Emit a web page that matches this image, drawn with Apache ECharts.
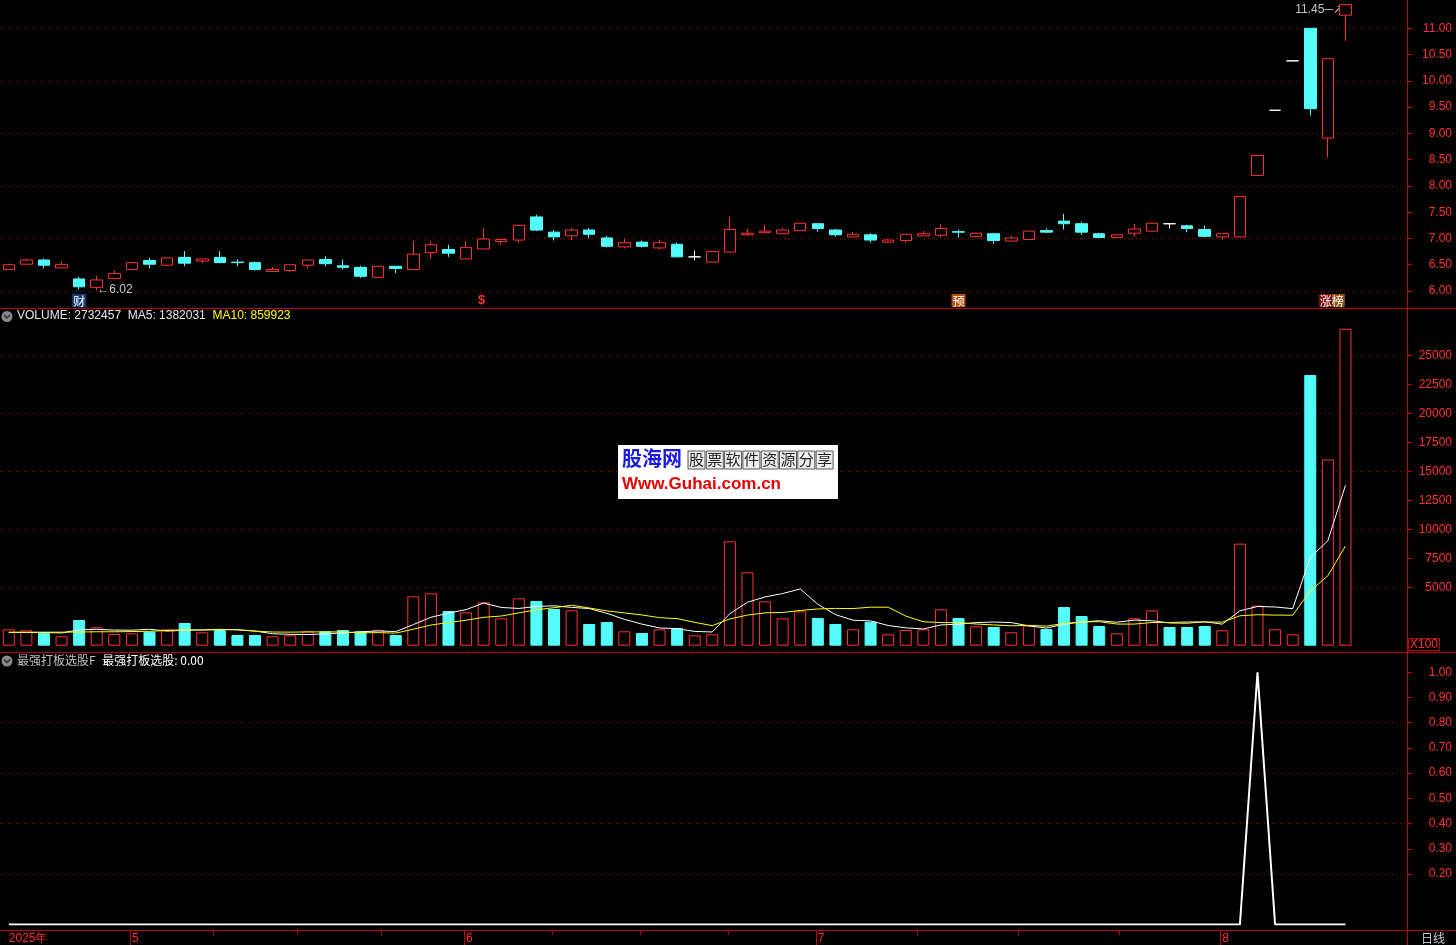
<!DOCTYPE html>
<html>
<head>
<meta charset="utf-8">
<title>K线</title>
<script src="https://cdn.jsdelivr.net/npm/echarts@6.0.0/dist/echarts.min.js"></script>
<style>
html,body{margin:0;padding:0;background:#000;overflow:hidden;}
#chart{width:1456px;height:945px;}
</style>
</head>
<body>
<div id="chart"></div>
<script>
// ---------------- data ----------------
const dates = [
 '2025-04-22','2025-04-23','2025-04-24','2025-04-25','2025-04-28','2025-04-29','2025-04-30',
 '2025-05-06','2025-05-07','2025-05-08','2025-05-09','2025-05-12','2025-05-13','2025-05-14','2025-05-15','2025-05-16',
 '2025-05-19','2025-05-20','2025-05-21','2025-05-22','2025-05-23','2025-05-26','2025-05-27','2025-05-28','2025-05-29','2025-05-30',
 '2025-06-03','2025-06-04','2025-06-05','2025-06-06','2025-06-09','2025-06-10','2025-06-11','2025-06-12','2025-06-13',
 '2025-06-16','2025-06-17','2025-06-18','2025-06-19','2025-06-20','2025-06-23','2025-06-24','2025-06-25','2025-06-26','2025-06-27','2025-06-30',
 '2025-07-01','2025-07-02','2025-07-03','2025-07-04','2025-07-07','2025-07-08','2025-07-09','2025-07-10','2025-07-11',
 '2025-07-14','2025-07-15','2025-07-16','2025-07-17','2025-07-18','2025-07-21','2025-07-22','2025-07-23','2025-07-24','2025-07-25',
 '2025-07-28','2025-07-29','2025-07-30','2025-07-31',
 '2025-08-01','2025-08-04','2025-08-05','2025-08-06','2025-08-07','2025-08-08','2025-08-11','2025-08-12'
];
const opens = [
 6.41,6.51,6.59,6.44,6.23,6.07,6.24,6.41,6.58,6.49,
 6.64,6.57,6.64,6.55,6.54,6.37,6.39,6.49,6.60,6.48,
 6.45,6.26,6.47,6.41,6.73,6.79,6.61,6.80,6.94,6.97,
 7.41,7.12,7.05,7.16,7.01,6.84,6.93,6.82,6.89,6.65,
 6.55,6.74,7.07,7.11,7.09,7.15,7.28,7.16,7.03,7.07,
 6.93,6.96,7.05,7.06,7.13,7.04,7.09,6.95,6.98,7.15,
 7.33,7.28,7.09,7.02,7.10,7.14,7.28,7.24,7.17,7.03,
 7.03,8.20,9.44,10.38,11.00,8.91,11.25
];
const closes = [
 6.50,6.59,6.49,6.50,6.08,6.21,6.33,6.54,6.51,6.63,
 6.53,6.61,6.54,6.54,6.41,6.41,6.50,6.59,6.52,6.45,
 6.28,6.47,6.43,6.70,6.88,6.72,6.83,6.99,6.98,7.25,
 7.16,7.03,7.16,7.08,6.85,6.92,6.85,6.92,6.65,6.65,
 6.75,7.17,7.10,7.14,7.16,7.29,7.19,7.07,7.08,6.97,
 6.97,7.08,7.09,7.19,7.12,7.10,6.96,7.01,7.14,7.12,
 7.28,7.12,7.02,7.07,7.18,7.29,7.28,7.19,7.04,7.09,
 7.80,8.58,9.44,10.38,9.47,10.42,11.45
];
const lows = [
 6.41,6.51,6.43,6.44,6.03,6.02,6.24,6.40,6.43,6.48,
 6.47,6.53,6.53,6.47,6.39,6.37,6.36,6.43,6.47,6.41,
 6.25,6.26,6.34,6.41,6.61,6.65,6.61,6.80,6.88,6.92,
 7.14,6.96,6.97,7.01,6.83,6.81,6.83,6.79,6.65,6.59,
 6.55,6.74,7.05,7.11,7.09,7.15,7.13,7.04,7.03,6.92,
 6.92,6.92,7.05,7.02,7.02,7.02,6.90,6.95,6.98,7.10,
 7.17,7.07,7.00,7.02,7.04,7.14,7.19,7.12,7.02,6.98,
 7.03,8.20,9.44,10.38,9.34,8.54,10.76
];
const highs = [
 6.52,6.62,6.62,6.56,6.27,6.29,6.39,6.54,6.63,6.63,
 6.76,6.61,6.76,6.60,6.56,6.46,6.50,6.59,6.66,6.60,
 6.48,6.47,6.47,6.95,6.95,6.88,6.95,7.20,6.98,7.25,
 7.45,7.16,7.20,7.20,7.05,6.99,6.96,6.97,6.92,6.77,
 6.75,7.41,7.18,7.26,7.20,7.29,7.28,7.18,7.12,7.10,
 6.99,7.08,7.14,7.27,7.17,7.10,7.11,7.05,7.14,7.19,
 7.47,7.32,7.11,7.07,7.28,7.30,7.28,7.26,7.24,7.09,
 7.80,8.58,9.44,10.38,11.00,10.42,11.45
];
const volumes = [
 141100,132500,112100,80800,221600,158400,100900,106600,121000,141100,
 195700,115200,135300,92200,92200,80800,89300,123900,123900,135300,
 123900,132500,92200,425600,451400,299100,287700,373900,235900,408400,
 385300,316400,304900,187100,204300,123900,109500,141100,152600,89400,
 98000,899700,632500,382500,235900,296300,238800,187100,141100,206900,
 98000,135300,141100,313800,238800,167200,161200,115500,172400,144000,
 333600,256000,169800,106900,236200,305200,161200,161200,169800,132500,
 879570,346000,141100,98000,2333600,1605000,2732457
];
// moving-average values before the first full window
const ma5Head = [115000,114000,114000,110000];
const ma10Head = [116000,116000,116500,116500,118000,120000,120000,122000,124000];
// 最强打板选股 signal
const signal = [
 0,0,0,0,0,0,0,0,0,0, 0,0,0,0,0,0,0,0,0,0,
 0,0,0,0,0,0,0,0,0,0, 0,0,0,0,0,0,0,0,0,0,
 0,0,0,0,0,0,0,0,0,0, 0,0,0,0,0,0,0,0,0,0,
 0,0,0,0,0,0,0,0,0,0, 0,1,0,0,0,0,0
];
// tick labels
const xLabelIndex = [0, 7, 26, 46, 69];
const xLabelText = ['2025年', '5', '6', '7', '8'];
const priceAxis = {min: 6, max: 11, step: 0.5, gridStep: 1};
const volAxis = {min: 500000, max: 2500000, step: 250000, gridStep: 500000};
const sigAxis = {min: 0.2, max: 1.0, step: 0.1, gridStep: 0.2};
// event markers under the price chart
const markerIndex = [4, 27, 54, 75];
const markerText = ['财', '$', '预', '涨榜'];
const lowMark = [5, 6.02];
const highMark = [76, 11.45];

// ---------------- derived ----------------
const categories = dates.concat(['pad1', 'pad2', 'pad3']);
const candleData = dates.map((d, i) => [opens[i], closes[i], lows[i], highs[i]]);
function isUp(i) {
  if (closes[i] > opens[i]) return true;
  if (closes[i] < opens[i]) return false;
  return i === 0 || closes[i - 1] <= closes[i];
}
function avg(a) { return a.reduce((s, v) => s + v, 0) / a.length; }
const ma5 = volumes.map((v, i) => i < 4 ? ma5Head[i] : avg(volumes.slice(i - 4, i + 1)));
const ma10 = volumes.map((v, i) => i < 9 ? ma10Head[i] : avg(volumes.slice(i - 9, i + 1)));
const lastI = volumes.length - 1;

const RED = '#ff3232', CYAN = '#54fcfc', FRAME = '#c00000', DOT = '#a00000';
const FONT = '"Liberation Sans", Arial, sans-serif';
const CJK = '"Noto Sans CJK SC", sans-serif';

const volData = volumes.map((v, i) => ({
  value: v,
  itemStyle: isUp(i) ? {color: '#000', borderColor: RED, borderWidth: 1}
                     : {color: CYAN, borderColor: CYAN, borderWidth: 1}
}));

// ---------------- layout ----------------
const GL = -2.5, GR = 49;
const PY = v => 28.3 + (11 - v) * 52.54;         // price px (used only for grid sizes)
const grids = [
  {left: GL, right: GR, top: PY(11.5), height: PY(5.5) - PY(11.5)},      // 0 price data
  {left: GL, right: GR, top: 326.7, height: 319},                          // 1 volume data
  {left: GL, right: GR, top: 672.3, height: 252.2},                        // 2 signal data
  {left: GL, right: GR, top: PY(11), height: PY(6) - PY(11)},              // 3 price labels
  {left: GL, right: GR, top: 355.7, height: 232},                          // 4 volume labels
  {left: GL, right: GR, top: 672.3, height: 252.2 * 0.8}                   // 5 signal labels
];

function labelAxis(grid, r, fmt) {
  return {
    type: 'value', gridIndex: grid, position: 'right', min: r.min, max: r.max, interval: r.step,
    axisLine: {show: false, onZero: false},
    axisTick: {show: true, length: 5, lineStyle: {color: FRAME, width: 1}},
    axisLabel: {show: true, align: 'right', margin: 45, color: RED, fontFamily: FONT, fontSize: 12, formatter: fmt},
    splitLine: {show: false}
  };
}
function gridAxis(grid, r, showMax) {
  return {
    type: 'value', gridIndex: grid, position: 'right', min: r.min, max: r.max, interval: r.gridStep,
    axisLine: {show: false, onZero: false}, axisTick: {show: false}, axisLabel: {show: false},
    splitLine: {show: true, showMinLine: true, showMaxLine: showMax,
      lineStyle: {color: DOT, width: 1, type: [1, 3]}}
  };
}
function catAxis(grid, showLabels) {
  return {
    type: 'category', gridIndex: grid, data: categories, boundaryGap: true,
    axisLine: {show: false, onZero: false}, axisTick: {show: false}, splitLine: {show: false},
    axisLabel: showLabels ? {
      show: true, align: 'left', margin: 8, color: RED, fontFamily: FONT, fontSize: 12,
      interval: (i) => xLabelIndex.indexOf(i) >= 0,
      formatter: (v, i) => { const k = xLabelIndex.indexOf(i); return k >= 0 ? xLabelText[k] : ''; }
    } : {show: false}
  };
}
function hiddenValueX(grid) {
  return {type: 'value', gridIndex: grid, show: false, min: 0, max: 1, axisLine: {onZero: false}};
}

const markPointData = [];
markPointData.push({
  coord: lowMark, symbolSize: 1,
  label: {show: true, position: 'right', distance: 0, formatter: '←' + lowMark[1].toFixed(2),
    color: '#c8c8c8', fontFamily: FONT, fontSize: 12}
});
markPointData.push({
  coord: highMark, symbolSize: 1,
  label: {show: true, position: 'left', distance: 2, offset: [0, 5], formatter: highMark[1].toFixed(2) + '─↗',
    color: '#c8c8c8', fontFamily: FONT, fontSize: 12}
});
const markerStyles = {
  '财': {rich: {a: {backgroundColor: '#16397a', color: '#fff', fontFamily: CJK, fontSize: 12, padding: [1, 1, 0, 1]}}, fmt: '{a|财}', off: [0, 0]},
  '$': {rich: {a: {color: RED, fontFamily: FONT, fontSize: 13, fontWeight: 'bold'}}, fmt: '{a|$}', off: [-2, 0]},
  '预': {rich: {a: {backgroundColor: '#b5500e', color: '#fff', fontFamily: CJK, fontSize: 12, padding: [1, 1, 0, 1]}}, fmt: '{a|预}', off: [0, 0]},
  '涨榜': {rich: {a: {backgroundColor: '#7d0c0c', color: '#fff', fontFamily: CJK, fontSize: 12, padding: [1, 0, 0, 1]},
                  b: {backgroundColor: '#8a5214', color: '#fff', fontFamily: CJK, fontSize: 12, padding: [1, 1, 0, 0]}},
           fmt: '{a|涨}{b|榜}', off: [4, 0]}
};
markerIndex.forEach((idx, k) => {
  const st = markerStyles[markerText[k]];
  markPointData.push({
    coord: [idx, 5.82], symbolSize: 1,
    label: {show: true, position: 'inside', formatter: st.fmt, rich: st.rich, offset: st.off}
  });
});

const option = {
  backgroundColor: '#000',
  animation: false,
  grid: grids,
  xAxis: [catAxis(0, false), catAxis(1, false), catAxis(2, true), hiddenValueX(3), hiddenValueX(4), hiddenValueX(5)],
  yAxis: [
    {type: 'value', gridIndex: 0, show: false, min: 5.5, max: 11.5},
    {type: 'value', gridIndex: 1, show: false, min: 0, max: 2750000},
    {type: 'value', gridIndex: 2, show: false, min: 0, max: 1},
    labelAxis(3, priceAxis, v => v.toFixed(2)),
    gridAxis(3, priceAxis, true),
    labelAxis(4, volAxis, v => String(Math.round(v / 100))),
    gridAxis(4, volAxis, true),
    labelAxis(5, sigAxis, v => v.toFixed(2)),
    gridAxis(5, sigAxis, false)
  ],
  series: [
    {
      type: 'candlestick', xAxisIndex: 0, yAxisIndex: 0, data: candleData, barWidth: 12, clip: false,
      itemStyle: {color: '#000', color0: CYAN, borderColor: RED, borderColor0: CYAN, borderColorDoji: '#ffffff', borderWidth: 1},
      markPoint: {symbol: 'rect', silent: true, itemStyle: {color: 'rgba(0,0,0,0)'}, data: markPointData},
      z: 5
    },
    {type: 'bar', xAxisIndex: 1, yAxisIndex: 1, data: volData, barWidth: 12, z: 3},
    {type: 'line', xAxisIndex: 1, yAxisIndex: 1, data: ma5, symbol: 'none', lineStyle: {color: '#ffffff', width: 1}, z: 4},
    {type: 'line', xAxisIndex: 1, yAxisIndex: 1, data: ma10, symbol: 'none', lineStyle: {color: '#ffff00', width: 1}, z: 4},
    {type: 'line', xAxisIndex: 2, yAxisIndex: 2, data: signal, symbol: 'none', lineStyle: {color: '#ffffff', width: 2}, z: 4}
  ]
};

const chart = echarts.init(document.getElementById('chart'), null, {renderer: 'canvas', width: 1456, height: 945});
chart.setOption(option);

// ---------------- frame, headers, ticks ----------------
function hline(y, c) { return {type: 'line', silent: true, shape: {x1: 0, y1: y, x2: 1456, y2: y}, style: {stroke: c || FRAME, lineWidth: 1}, z: 10}; }
function icon(cx, cy) {
  return [
    {type: 'circle', silent: true, shape: {cx: cx, cy: cy, r: 5.5}, style: {fill: '#8a8a8a'}, z: 10},
    {type: 'polyline', silent: true, shape: {points: [[cx - 3, cy - 1.5], [cx, cy + 1.5], [cx + 3, cy - 1.5]]}, style: {stroke: '#2a2a2a', lineWidth: 1.5, fill: null}, z: 11}
  ];
}
const g = [];
g.push(hline(308.5), hline(652.5), hline(930.5));
g.push({type: 'line', silent: true, shape: {x1: 1407.5, y1: 0, x2: 1407.5, y2: 945}, style: {stroke: FRAME, lineWidth: 1}, z: 10});
// X100 box
g.push({type: 'rect', silent: true, shape: {x: 1408.5, y: 638.5, width: 31, height: 12}, style: {fill: '#000', stroke: FRAME, lineWidth: 1}, z: 10});
g.push({type: 'text', silent: true, x: 1410, y: 639, style: {text: 'X100', fill: RED, font: '12px ' + FONT}, z: 11});
// 日线
g.push({type: 'text', silent: true, x: 1421, y: 932, style: {text: '日线', fill: '#c8c8c8', font: '12px ' + CJK}, z: 11});
// volume header
g.push.apply(g, icon(7, 316.5));
g.push({type: 'text', silent: true, x: 17, y: 310, z: 11, style: {
  text: '{w|VOLUME: ' + volumes[lastI] + '  MA5: ' + Math.round(ma5[lastI]) + '}  {y|MA10: ' + Math.round(ma10[lastI]) + '}',
  rich: {w: {fill: '#e6e6e6', font: '12px ' + FONT}, y: {fill: '#ffff00', font: '12px ' + FONT}}
}});
// signal header
g.push.apply(g, icon(7, 661));
g.push({type: 'text', silent: true, x: 17, y: 654, z: 11, style: {
  text: '{g|最强打板选股F}  {w|最强打板选股: ' + signal[lastI].toFixed(2) + '}',
  rich: {g: {fill: '#c0c0c0', font: '12px ' + CJK}, w: {fill: '#ffffff', font: '12px ' + CJK}}
}});
// watermark
g.push({type: 'group', x: 618, y: 445, z: 20, children: [
  {type: 'rect', shape: {x: 0, y: 0, width: 220, height: 54}, style: {fill: '#ffffff'}},
  {type: 'text', x: 4, y: 3, style: {text: '股海网', fill: '#1a1ae6', font: 'bold 20px ' + CJK}},
  {type: 'text', x: 4, y: 31, style: {text: 'Www.Guhai.com.cn', fill: '#e60000', font: 'bold 17px ' + FONT}}
].concat('股票软件资源分享'.split('').map((ch, i) => ({
  type: 'group', x: 70 + i * 18.3, y: 6, children: [
    {type: 'rect', shape: {x: 0, y: 0, width: 17, height: 18}, style: {fill: '#eeeeee', stroke: '#555', lineWidth: 1}},
    {type: 'text', x: 1, y: 1, style: {text: ch, fill: '#222', font: '15px ' + CJK}}
  ]})))
});
// x-axis ticks (month starts and quarter marks, positioned through the category scale)
const px = i => chart.convertToPixel({xAxisIndex: 2}, i);
const starts = xLabelIndex.slice(1);
starts.forEach(i => {
  const x = Math.round(px(i)) - 1.5;
  g.push({type: 'line', silent: true, shape: {x1: x, y1: 931, x2: x, y2: 945}, style: {stroke: FRAME, lineWidth: 1}, z: 10});
});
for (let k = 0; k < starts.length - 1; k++) {
  const a = px(starts[k]), b = px(starts[k + 1]);
  for (let j = 1; j < 4; j++) {
    const x = Math.round(a + (b - a) * j / 4) - 1.5;
    g.push({type: 'line', silent: true, shape: {x1: x, y1: 931, x2: x, y2: 935}, style: {stroke: FRAME, lineWidth: 1}, z: 10});
  }
}
chart.setOption({graphic: g});
</script>
</body>
</html>
